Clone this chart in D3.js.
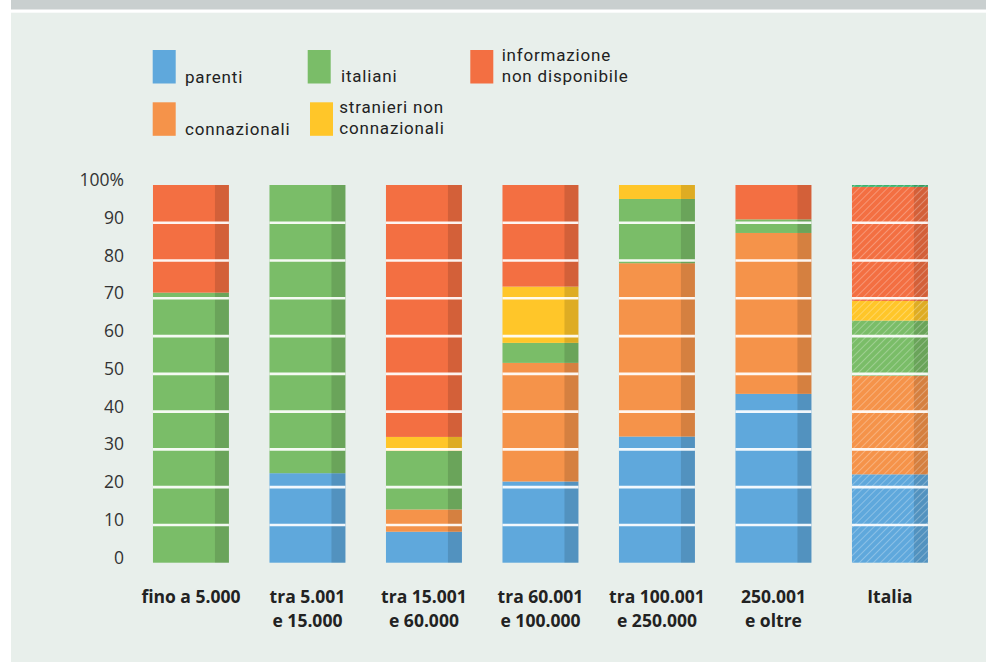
<!DOCTYPE html>
<html><head><meta charset="utf-8">
<script src="https://cdn.jsdelivr.net/npm/d3@7"></script>
<style>
html,body{margin:0;padding:0;background:#fff;}
svg{display:block;}
</style></head>
<body>
<svg id="chart" width="986" height="662"></svg>
<script>
// ---- data ----
const categories = [["fino a 5.000"], ["tra 5.001", "e 15.000"], ["tra 15.001", "e 60.000"], ["tra 60.001", "e 100.000"], ["tra 100.001", "e 250.000"], ["250.001", "e oltre"], ["Italia"]];
const parenti      = [0,    23.7, 8.2,  21.5, 33.4, 44.7, 23.4];
const connazionali = [0,    0,    5.9,  31.4, 45.9, 42.6, 26.1];
const italiani     = [71.5, 76.3, 15.5, 5.3,  17.0, 3.6,  14.6];
const stranieri    = [0,    0,    3.7,  14.9, 3.7,  0,    5.2];
const infoND       = [28.5, 0,    66.7, 26.9, 0,    9.1,  30.2];
const altro        = [0,    0,    0,    0,    0,    0,    0.5];
const yTicks = [0, 10, 20, 30, 40, 50, 60, 70, 80, 90, 100];
const gridValues = [10, 20, 30, 40, 50, 60, 70, 80, 90];

const seriesDefs = [
  {key: "parenti", values: parenti, color: "#5fa8dc"},
  {key: "connazionali", values: connazionali, color: "#f5934a"},
  {key: "italiani", values: italiani, color: "#7abd68"},
  {key: "stranieri", values: stranieri, color: "#ffc629"},
  {key: "info", values: infoND, color: "#f36f42"},
  {key: "altro", values: altro, color: "#3db36f"}
];

const svg = d3.select("#chart");
// background
svg.append("rect").attr("x", 0).attr("y", 0).attr("width", 986).attr("height", 662).attr("fill", "#ffffff");
svg.append("rect").attr("x", 11).attr("y", 0).attr("width", 975).attr("height", 9.5).attr("fill", "#c9cfcf");
svg.append("rect").attr("x", 11).attr("y", 12.7).attr("width", 975).attr("height", 662 - 12.7).attr("fill", "#e8efeb");

// hatch pattern
const defs = svg.append("defs");
const pat = defs.append("pattern").attr("id", "hatch").attr("patternUnits", "userSpaceOnUse")
  .attr("width", 5).attr("height", 5).attr("patternTransform", "rotate(45)");
pat.append("line").attr("x1", 0).attr("y1", 0).attr("x2", 0).attr("y2", 5)
  .attr("stroke", "#ffffff").attr("stroke-width", 1.7).attr("stroke-opacity", 0.32);

const table = categories.map((c, i) => {
  const o = {idx: i};
  seriesDefs.forEach(s => o[s.key] = s.values[i]);
  return o;
});

const x = d3.scaleBand().domain(d3.range(categories.length)).range([132.7, 948.2])
  .paddingInner(0.348).paddingOuter(0.174);
const y = d3.scaleLinear().domain([0, 100]).range([562.7, 185]);

const stack = d3.stack().keys(seriesDefs.map(s => s.key));
const stacked = stack(table);

const bw = x.bandwidth();
const darkW = 14;

const gBars = svg.append("g");
stacked.forEach((layer, li) => {
  const col = seriesDefs[li].color;
  layer.forEach((d, i) => {
    if (d[1] - d[0] <= 0) return;
    const x0 = x(i), yTop = y(d[1]), h = y(d[0]) - y(d[1]);
    gBars.append("rect").attr("x", x0).attr("y", yTop).attr("width", bw).attr("height", h).attr("fill", col);
    gBars.append("rect").attr("x", x0 + bw - darkW).attr("y", yTop).attr("width", darkW).attr("height", h)
      .attr("fill", "#000").attr("fill-opacity", 0.13);
    if (i === categories.length - 1) {
      gBars.append("rect").attr("x", x0).attr("y", yTop).attr("width", bw).attr("height", h).attr("fill", "url(#hatch)");
    }
  });
});

// white grid lines across bars
const gGrid = svg.append("g");
categories.forEach((c, i) => {
  gGrid.selectAll(null).data(gridValues).enter().append("line")
    .attr("x1", x(i)).attr("x2", x(i) + bw)
    .attr("y1", d => y(d)).attr("y2", d => y(d))
    .attr("stroke", "#ffffff").attr("stroke-width", 2.6).attr("stroke-opacity", 0.92);
});

// y axis
const yAxis = d3.axisLeft(y).tickValues(yTicks).tickSize(0).tickPadding(0)
  .tickFormat(d => d === 100 ? "100%" : String(d));
const gy = svg.append("g").attr("transform", "translate(124,-5)").call(yAxis);
gy.select(".domain").remove();
gy.selectAll("text").attr("font-family", "'Open Sans', sans-serif").attr("font-size", 17.5)
  .attr("fill", "#333").attr("text-anchor", "end");

// x labels
const gx = svg.append("g");
categories.forEach((lines, i) => {
  const t = gx.append("text").attr("x", x(i) + bw / 2).attr("y", 602.5)
    .attr("text-anchor", "middle").attr("font-family", "'Open Sans', sans-serif")
    .attr("font-weight", "bold").attr("font-size", 17.5).attr("fill", "#222");
  lines.forEach((ln, k) => {
    t.append("tspan").attr("x", x(i) + bw / 2).attr("y", 602.5 + k * 24).text(ln);
  });
});

// legend
const legendItems = [
  {color: "#5fa8dc", lines: ["parenti"], sx: 152.7, sy: 50, tx: 185, ty: [82.5]},
  {color: "#7abd68", lines: ["italiani"], sx: 307.7, sy: 50, tx: 341, ty: [81.5]},
  {color: "#f36f42", lines: ["informazione", "non disponibile"], sx: 470.3, sy: 50, tx: 501.7, ty: [61.3, 81.7]},
  {color: "#f5934a", lines: ["connazionali"], sx: 152.7, sy: 102.3, tx: 185, ty: [134.5]},
  {color: "#ffc629", lines: ["stranieri non", "connazionali"], sx: 310, sy: 102.3, tx: 339.3, ty: [113.3, 134]}
];
const gl = svg.append("g");
legendItems.forEach(it => {
  gl.append("rect").attr("x", it.sx).attr("y", it.sy).attr("width", 23).attr("height", 33.5).attr("fill", it.color);
  it.lines.forEach((ln, k) => {
    gl.append("text").attr("x", it.tx).attr("y", it.ty[k]).text(ln)
      .attr("font-family", "Roboto, sans-serif").attr("font-size", 17)
      .attr("letter-spacing", 0.8).attr("fill", "#222");
  });
});
</script>
</body></html>
